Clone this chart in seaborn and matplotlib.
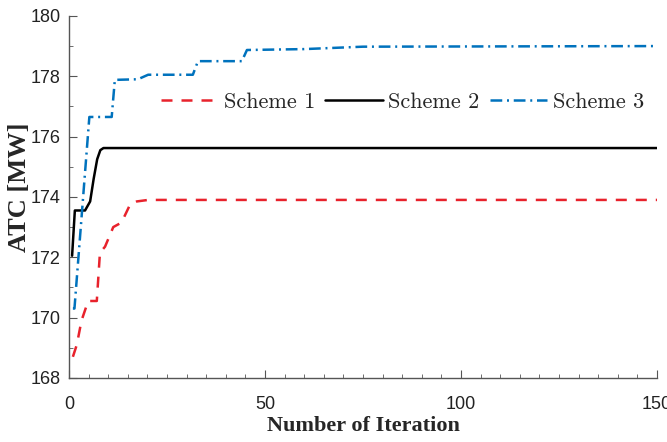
import numpy as np
import pandas as pd
import matplotlib
matplotlib.use("Agg")
import matplotlib.pyplot as plt
from matplotlib.ticker import MultipleLocator
import seaborn as sns

# ATC convergence per scheme (breakpoints)
scheme1_iter = [1, 2, 3.2, 4.9, 7.1, 7.9, 9.2, 11.3, 13.4, 15.6, 17.3, 20.2, 150]
scheme1_atc = [168.7, 169.1, 169.9, 170.55, 170.55, 172.15, 172.35, 173.0, 173.15,
               173.75, 173.85, 173.9, 173.9]

scheme2_iter = [0.8, 1.5, 4.1, 5.4, 6.3, 7.2, 8.0, 8.8, 150]
scheme2_atc = [172.05, 173.55, 173.55, 173.85, 174.6, 175.25, 175.55, 175.62, 175.62]

scheme3_iter = [1.0, 1.4, 5.2, 10.9, 11.7, 17.6, 20.2, 31.6, 32.9, 44.1, 45.4, 60, 75, 150]
scheme3_atc = [170.3, 170.3, 176.65, 176.65, 177.88, 177.9, 178.05, 178.05, 178.5,
               178.5, 178.87, 178.9, 178.98, 179.0]

scheme_names = ["Scheme 1", "Scheme 2", "Scheme 3"]

df = pd.concat([
    pd.DataFrame({"iter": scheme1_iter, "atc": scheme1_atc, "scheme": scheme_names[0]}),
    pd.DataFrame({"iter": scheme2_iter, "atc": scheme2_atc, "scheme": scheme_names[1]}),
    pd.DataFrame({"iter": scheme3_iter, "atc": scheme3_atc, "scheme": scheme_names[2]}),
])

sns.set_style("ticks")
plt.rcParams["font.family"] = ["Liberation Sans", "DejaVu Sans"]

palette = {"Scheme 1": "#E8222C", "Scheme 2": "#000000", "Scheme 3": "#0072BD"}
dashes = {"Scheme 1": (4.4, 3.6), "Scheme 2": "", "Scheme 3": (4.7, 1.9, 0.8, 1.9)}

fig = plt.figure(figsize=(6.67, 4.42), dpi=100)
ax = fig.add_axes([0.1034, 0.145, 0.8816, 0.819])

sns.lineplot(data=df, x="iter", y="atc", hue="scheme", style="scheme",
             palette=palette, dashes=dashes, estimator=None, sort=False,
             linewidth=1.8, ax=ax)

ax.set_xlim(0, 150)
ax.set_ylim(168, 180)
ax.xaxis.set_major_locator(MultipleLocator(50))
ax.xaxis.set_minor_locator(MultipleLocator(5))
ax.yaxis.set_major_locator(MultipleLocator(2))
ax.yaxis.set_minor_locator(MultipleLocator(1))
ax.tick_params(which="both", direction="in", colors="#555555", labelcolor="#222222",
               labelsize=13)
ax.tick_params(axis="x", which="both", pad=13)
ax.tick_params(axis="y", which="both", pad=6)
ax.tick_params(which="major", length=5.8)
ax.tick_params(which="minor", length=3)
sns.despine(ax=ax)
for s in ["left", "bottom"]:
    ax.spines[s].set_color("#555555")
    ax.spines[s].set_linewidth(1.0)

ax.set_xlabel("Number of Iteration", fontsize=16, fontweight="bold",
              family="Liberation Serif", labelpad=2)
ax.set_ylabel("ATC [MW]", fontsize=19, fontweight="bold",
              family="Liberation Serif")
ax.yaxis.set_label_coords(-0.065, 0.526)

sns.move_legend(ax, loc="center", bbox_to_anchor=(0.567, 0.762), ncol=3,
                frameon=False, title=None, handlelength=2.6, handletextpad=0.25,
                columnspacing=0.45, borderpad=0,
                prop={"family": "cmr10", "size": 16})
for line in ax.get_legend().get_lines():
    line.set_linewidth(1.8)

fig.savefig("out.png", dpi=100)
